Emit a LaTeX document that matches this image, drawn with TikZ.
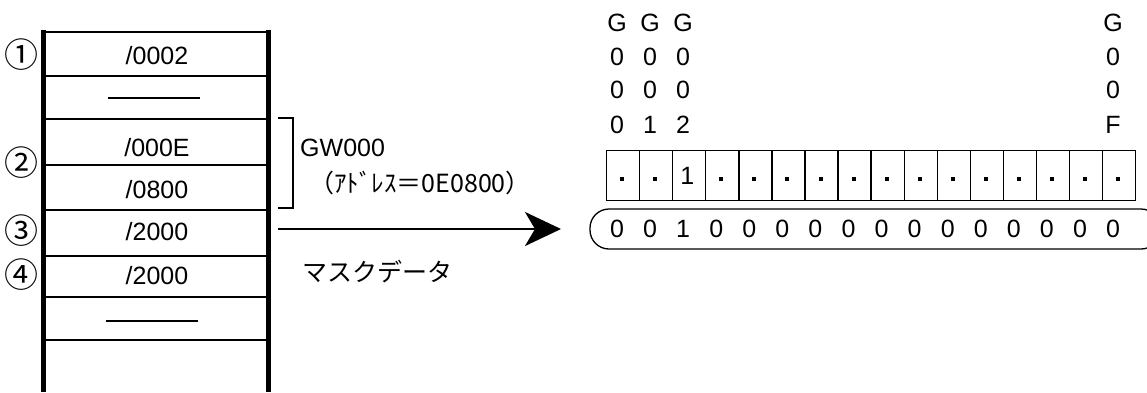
\documentclass[tikz,border=0pt]{standalone}
\usepackage{fontspec}
\setmainfont{Liberation Sans}
\newfontfamily\jp{Noto Sans CJK JP}
\usetikzlibrary{arrows.meta,calc}
\begin{document}
\begin{tikzpicture}[x=1pt,y=-1pt,
  txt/.style={inner sep=0pt,font=\fontsize{25}{29}\selectfont},
  jtxt/.style={inner sep=0pt,font=\jp\fontsize{25}{29}\selectfont},
  circ/.style={inner sep=0pt,font=\jp\fontsize{34}{38}\selectfont},
  rowline/.style={line width=1.2pt},
  wall/.style={line width=5pt},
  cellbox/.style={draw,line width=1.3pt,minimum width=33.06pt,minimum height=50pt,inner sep=0pt,anchor=north west},
  dotmark/.style={fill,inner sep=0pt,minimum size=4pt}
]
\useasboundingbox (0,0) rectangle (1147,392);
% memory table
\foreach \yy in {32,76,119,165,210,256,340} \draw[rowline] (43,\yy) -- (268,\yy);
\draw[line width=1.8pt] (43,297) -- (268,297);
\draw[wall] (43,30) -- (43,392);
\draw[wall] (268,30) -- (268,392);
\node[txt] (r1) at (157,56) {/0002};
\draw[line width=1.8pt] (108,98) -- (200,98);
\node[txt] (r2) at (157,148) {/000E};
\node[txt] (r3) at (157,190) {/0800};
\node[txt] (r4) at (157,232) {/2000};
\node[txt] (r5) at (157,276) {/2000};
\draw[line width=1.8pt] (106,321) -- (198,321);
\node[circ] (n1) at (22,55) {①};
\node[circ] (n2) at (22,163) {②};
\node[circ] (n3) at (22,231) {③};
\node[circ] (n4) at (22,275) {④};
% bracket
\draw[line width=2pt] (278,118) -- (293,118) -- (293,208) -- (278,208);
\node[txt,anchor=west] (gw) at (300,148) {GW000};
\node[jtxt,anchor=west] (addr) at (309,183) {（ｱﾄﾞﾚｽ＝0E0800）};
% arrow
\coordinate (as) at (278,229);
\coordinate (ae) at (561,229);
\draw[line width=2.5pt,-{Stealth[length=36pt,width=34pt,inset=10pt]}] (as) -- (ae);
\node[jtxt,anchor=west] (mask) at (302,272) {マスクデータ};
% bit cells
\foreach \i in {0,...,15} {
  \node[cellbox] (c\i) at ({606+33.06*\i},150) {};
}
\foreach \i in {0,1,3,4,5,6,7,8,9,10,11,12,13,14,15} {
  \node[dotmark] at ($(c\i.center)+(-1,3)$) {};
}
\node[txt] (one) at ($(c2.center)+(-2,0)$) {1};
% column labels
\foreach \i/\a/\b/\c/\d in {0/G/0/0/0,1/G/0/0/1,2/G/0/0/2,15/G/0/0/F} {
  \node[txt] (g\i) at ({617+33.07*\i},23) {\a};
  \node[txt] at ({617+33.07*\i},57) {\b};
  \node[txt] at ({617+33.07*\i},90) {\c};
  \node[txt] at ({617+33.07*\i},125) {\d};
}
% pill
\draw[line width=1.3pt,rounded corners=19pt] (590,209) rectangle (1160,249);
\foreach \i/\v in {0/0,1/0,2/1,3/0,4/0,5/0,6/0,7/0,8/0,9/0,10/0,11/0,12/0,13/0,14/0,15/0} {
  \node[txt] (p\i) at ({617+33.07*\i},229) {\v};
}
\end{tikzpicture}
\end{document}
